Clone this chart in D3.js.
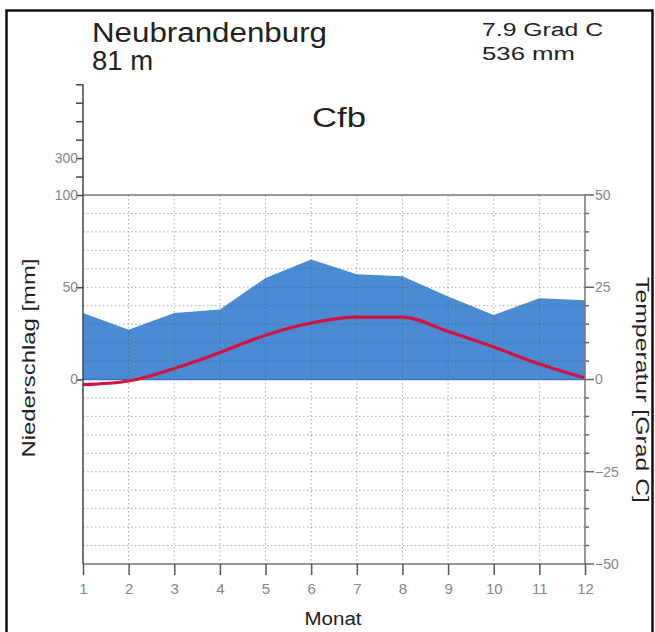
<!DOCTYPE html>
<html lang="de">
<head>
<meta charset="UTF-8">
<title>Klimadiagramm Neubrandenburg</title>
<script src="https://d3js.org/d3.v7.min.js"></script>
<style>
  body { margin: 0; background: #fff; }
  text { font-family: "Liberation Sans", Arial, sans-serif; }
  .tick-label { font-size: 14px; fill: #858585; }
  .title { font-family: "Liberation Sans", Arial, sans-serif; fill: #222; }
</style>
</head>
<body>
<svg id="chart" width="655" height="632"></svg>
<script>
// Monatsdaten
const months = [1, 2, 3, 4, 5, 6, 7, 8, 9, 10, 11, 12];
const precipitation = [36, 27, 36, 38, 55, 65, 57, 56, 45, 35, 44, 43];
const temperature = [-1.4, -0.4, 3.0, 7.3, 12.0, 15.3, 16.9, 16.9, 13.0, 8.8, 4.2, 0.4];
const tempTicks = [-50, -25, 0, 25, 50];
const precipTicks = [0, 50, 100];
const station = "Neubrandenburg";
const altitude = "81 m";
const meanTemp = "7.9 Grad C";
const totalPrecip = "536 mm";
const climateClass = "Cfb";

const svg = d3.select("#chart");
const plotLeft = 83, plotRight = 585, plotTop = 195, plotBottom = 564;

const x = d3.scaleLinear().domain([1, 12]).range([plotLeft, plotRight]);
const yT = d3.scaleLinear().domain([-50, 50]).range([plotBottom, plotTop]);
// Niederschlag: 100 mm = 50 Grad, darueber 1:10 gestaucht
const yP = d3.scaleLinear().domain([0, 100, 700])
  .range([yT(0), yT(50), yT(50) - 6 * (yT(0) - yT(50)) / 10]);

svg.append("rect").attr("width", 655).attr("height", 632).attr("fill", "#fff");

// Rahmen
svg.append("rect")
  .attr("x", 6.5).attr("y", 10.5).attr("width", 646).attr("height", 640)
  .attr("fill", "none").attr("stroke", "#111").attr("stroke-width", 2.5);

// Niederschlagsflaeche
const area = d3.area()
  .x((d, i) => x(months[i]))
  .y0(yP(0))
  .y1(d => yP(d));
svg.append("path").datum(precipitation)
  .attr("d", area)
  .attr("fill", "#4a8bd3");

// Gitterlinien
const grid = svg.append("g");
d3.range(-45, 50, 5).forEach(t => {
  if (t === 0) return;
  grid.append("line")
    .attr("x1", plotLeft).attr("x2", plotRight)
    .attr("y1", yT(t)).attr("y2", yT(t))
    .attr("stroke", "#555").attr("stroke-opacity", 0.5)
    .attr("stroke-width", 1).attr("stroke-dasharray", "1.5,2.5");
});
months.slice(1, -1).forEach(m => {
  grid.append("line")
    .attr("x1", x(m)).attr("x2", x(m))
    .attr("y1", plotTop).attr("y2", plotBottom)
    .attr("stroke", "#555").attr("stroke-opacity", 0.5)
    .attr("stroke-width", 1).attr("stroke-dasharray", "1.5,2.5");
});

// Nulllinie
svg.append("line")
  .attr("x1", plotLeft).attr("x2", plotRight)
  .attr("y1", yT(0)).attr("y2", yT(0))
  .attr("stroke", "#3a74c4").attr("stroke-width", 1.5);

// Temperaturkurve
const line = d3.line()
  .x((d, i) => x(months[i]))
  .y(d => yT(d))
  .curve(d3.curveMonotoneX);
svg.append("path").datum(temperature)
  .attr("d", line)
  .attr("fill", "none")
  .attr("stroke", "#d3123e")
  .attr("stroke-width", 3.2);

// Rahmen des Diagramms
svg.append("line").attr("x1", plotLeft).attr("x2", plotRight).attr("y1", plotTop).attr("y2", plotTop)
  .attr("stroke", "#777").attr("stroke-width", 1.3);
svg.append("line").attr("x1", plotLeft).attr("x2", plotRight).attr("y1", plotBottom).attr("y2", plotBottom)
  .attr("stroke", "#777").attr("stroke-width", 1.3);

// Linke Achse (Niederschlag)
const yPAxis = d3.axisLeft(yP)
  .tickValues([0, 50, 100, 200, 300, 400, 500, 600, 700])
  .tickSize(7)
  .tickFormat(d => (precipTicks.includes(d) || d === 300) ? d : "");
const gL = svg.append("g").attr("transform", `translate(${plotLeft},0)`).call(yPAxis);
gL.select(".domain").remove();
gL.append("line").attr("x1", 0).attr("x2", 0).attr("y1", yP(700)).attr("y2", plotBottom)
  .attr("stroke", "#444").attr("stroke-width", 1.5);
gL.selectAll(".tick line").attr("stroke", "#444").attr("stroke-width", 1.5);
gL.selectAll(".tick text").attr("class", "tick-label").attr("x", -5)
  .style("font-size", "14px").attr("fill", "#858585");

// Rechte Achse (Temperatur)
const gR = svg.append("g").attr("transform", `translate(${plotRight},0)`);
gR.append("line").attr("x1", 0).attr("x2", 0).attr("y1", plotTop).attr("y2", plotBottom)
  .attr("stroke", "#777").attr("stroke-width", 1.5);
d3.range(-50, 51, 5).forEach(t => {
  const major = tempTicks.includes(t);
  gR.append("line")
    .attr("x1", 0).attr("x2", major ? 9 : 4)
    .attr("y1", yT(t)).attr("y2", yT(t))
    .attr("stroke", "#666").attr("stroke-width", 1.5);
});
gR.selectAll("text.tl").data(tempTicks).enter().append("text")
  .attr("class", "tick-label")
  .attr("x", 10).attr("y", d => yT(d)).attr("dy", "0.35em")
  .text(d => d < 0 ? "\u2212" + Math.abs(d) : d);

// Untere Achse (Monat)
const xAxis = d3.axisBottom(x).tickValues(months).tickSize(11).tickFormat(d3.format("d"));
const gB = svg.append("g").attr("transform", `translate(0,${plotBottom})`).call(xAxis);
gB.select(".domain").remove();
gB.selectAll(".tick line").attr("stroke", "#555").attr("stroke-width", 1.5);
gB.selectAll(".tick text").attr("class", "tick-label").attr("y", 19)
  .style("font-size", "15px").attr("fill", "#858585");

// Achsentitel
svg.append("text").attr("x", 333).attr("y", 625).attr("text-anchor", "middle")
  .attr("textLength", 57).attr("lengthAdjust", "spacingAndGlyphs")
  .style("font-size", "18px").attr("fill", "#222").text("Monat");
svg.append("text").attr("transform", "translate(35,358) rotate(-90)").attr("text-anchor", "middle")
  .attr("textLength", 199).attr("lengthAdjust", "spacingAndGlyphs")
  .style("font-size", "19px").attr("fill", "#222").text("Niederschlag [mm]");
svg.append("text").attr("transform", "translate(636,390) rotate(90)").attr("text-anchor", "middle")
  .attr("textLength", 226).attr("lengthAdjust", "spacingAndGlyphs")
  .style("font-size", "19px").attr("fill", "#222").text("Temperatur [Grad C]");

// Kopfzeilen
function header(txt, xPos, yPos, size, len) {
  svg.append("text").attr("class", "title").attr("x", xPos).attr("y", yPos)
    .attr("textLength", len).attr("lengthAdjust", "spacingAndGlyphs")
    .style("font-size", size + "px").text(txt);
}
header(station, 92, 42, 27, 235);
header(altitude, 92, 70, 27, 61);
header(meanTemp, 482, 36, 18, 121);
header(totalPrecip, 482, 60, 18, 93);
header(climateClass, 312, 127, 27, 54);
</script>
</body>
</html>
